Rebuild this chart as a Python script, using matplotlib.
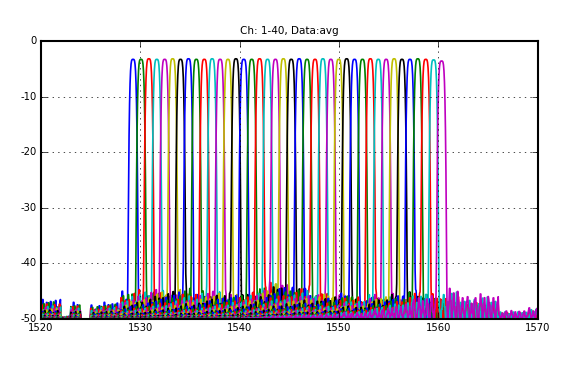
import numpy as np
from matplotlib import pyplot as plt

# channel centre wavelengths [nm]
centers = [1529.30, 1530.10, 1530.89, 1531.69, 1532.48, 1533.28, 1534.07, 1534.87,
           1535.66, 1536.46, 1537.25, 1538.05, 1538.84, 1539.64, 1540.43, 1541.23,
           1542.02, 1542.82, 1543.61, 1544.41, 1545.20, 1546.00, 1546.79, 1547.59,
           1548.38, 1549.18, 1549.97, 1550.77, 1551.56, 1552.36, 1553.15, 1553.95,
           1554.74, 1555.54, 1556.33, 1557.13, 1557.92, 1558.72, 1559.51, 1560.31]

# peak insertion loss per channel [dB]
peak_db = [-3.3, -3.3, -3.2, -3.3, -3.3, -3.2, -3.3, -3.2, -3.3, -3.3,
           -3.2, -3.3, -3.3, -3.2, -3.3, -3.3, -3.2, -3.3, -3.3, -3.2,
           -3.3, -3.2, -3.3, -3.3, -3.2, -3.3, -3.3, -3.2, -3.3, -3.3,
           -3.2, -3.3, -3.3, -3.2, -3.3, -3.3, -3.2, -3.3, -3.4, -3.6]

# passband width parameter [nm] and flatness order
band_w = 0.30
band_order = 4

# highest noise level per 1 nm bin, 1520 ... 1570 nm
floor_top = [-46.5, -46.5, -49.5, -47, -50, -47.5, -47, -47, -45, -44,
             -44.5, -44, -44.5, -44.5, -44, -45, -44.5, -44.5, -45, -45,
             -45, -44.5, -43.5, -42.5, -43, -43.5, -43.5, -45, -44.5, -45.5,
             -44.5, -45.5, -46, -45, -45.5, -45, -45.5, -44.5, -45, -45,
             -45, -44.5, -46, -46, -45.5, -46, -48.5, -48.5, -48.5, -48, -50]

# shape of the noise spikes (fraction of the local noise height)
ripple = [0.0, 0.5, 1.0, 0.6, 0.0, 0.3, 0.85, 0.4, 0.0, 0.2, 0.9,
          0.65, 0.1, 0.0, 0.6, 0.95, 0.3, 0.0, 0.4, 0.75, 1.0, 0.5,
          0.0, 0.25, 0.7, 0.3, 0.0, 0.8, 0.95, 0.45, 0.0]

plt.style.use('classic')
plt.rcParams['axes.unicode_minus'] = False


def channel_trace(wl, i, weights):
    d = wl - centers[i]
    passband = peak_db[i] - 4.343 * (np.abs(d) / band_w) ** band_order
    bins = np.clip((wl - 1520).astype(int), 0, len(floor_top) - 1)
    top = np.array(floor_top)[bins] + 50
    idx = (np.arange(len(wl)) // 2 + 7 * i) % len(ripple)
    noise = -50 + top * np.array(ripple)[idx] * weights[i]
    return 10 * np.log10(10 ** (passband / 10) + 10 ** (noise / 10))


def plot_channels():
    wl = np.arange(1520, 1570.001, 0.05)
    c = np.array(centers)[:, None]
    w = np.exp(-np.abs(wl[None, :] - c) / 6.0)
    w = w / w.max(axis=0)

    fig = plt.figure(figsize=(5.69, 3.66), facecolor='white')
    ax = fig.add_axes([0.0712, 0.1284, 0.8743, 0.7596])
    for i in range(len(centers)):
        ax.plot(wl, channel_trace(wl, i, w), lw=1.2)

    ax.set_xlim(1520, 1570)
    ax.set_ylim(-50, 0)
    ax.set_xticks(range(1520, 1571, 10))
    ax.set_yticks(range(-50, 1, 10))
    ax.ticklabel_format(useOffset=False)
    ax.tick_params(labelsize=7.2, pad=3)
    for s in ax.spines.values():
        s.set_linewidth(1.5)
    ax.grid(True)
    ax.set_title("Ch: 1-40, Data:avg", fontsize=7.5, pad=5)
    fig.savefig("out.png", dpi=100, facecolor='white')


if __name__ == '__main__':
    plot_channels()
